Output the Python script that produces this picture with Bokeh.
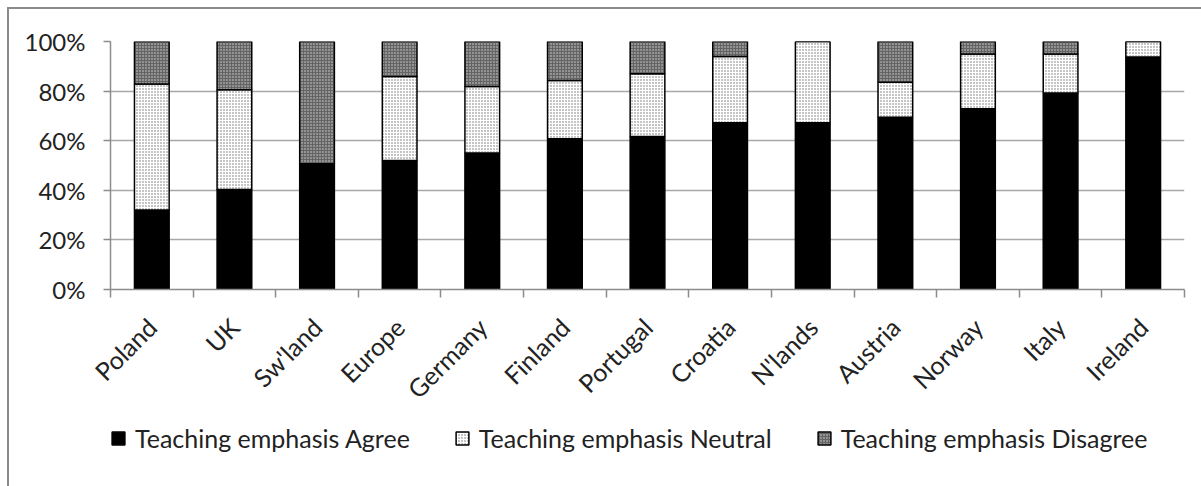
from math import pi

from bokeh.embed import file_html
from bokeh.layouts import column
from bokeh.models import (CategoricalAxis, ColumnDataSource, FactorRange, FixedTicker, Legend,
                          LegendItem, LinearAxis, PrintfTickFormatter, Range1d)
from bokeh.plotting import figure
from bokeh.resources import INLINE

# Share of responses (%) per country
countries = ["Poland", "UK", "Sw'land", "Europe", "Germany", "Finland", "Portugal",
             "Croatia", "N'lands", "Austria", "Norway", "Italy", "Ireland"]
agree = [32.1, 40.3, 50.7, 52.0, 55.0, 60.8, 61.7, 67.2, 67.2, 69.5, 72.9, 79.2, 93.7]
neutral = [50.8, 40.2, 0.0, 33.9, 26.9, 23.5, 25.3, 26.8, 32.8, 14.1, 22.1, 15.8, 6.3]
disagree = [17.1, 19.5, 49.3, 14.1, 18.1, 15.7, 13.0, 6.0, 0.0, 16.4, 5.0, 5.0, 0.0]
series = ["Teaching emphasis Agree", "Teaching emphasis Neutral", "Teaching emphasis Disagree"]
y_ticks = [0, 20, 40, 60, 80, 100]

FONT = "Lato"
TEXT = "#222222"
AXIS = "#8c8c8c"

# fill styles of the three answer groups
FILLS = ["black", "white", "#646464"]
HATCHES = [" ", "dot", "dot"]
HATCH_COLORS = ["black", "#6e6e6e", "#d8d8d8"]
BAR_LINE = dict(line_color="black", line_width=1.5, hatch_scale=3, hatch_weight=1.6)
STACK = ["agree", "neutral", "disagree"]

src = ColumnDataSource(dict(country=countries, agree=agree, neutral=neutral, disagree=disagree))

p = figure(x_range=FactorRange(*countries), y_range=Range1d(0, 100),
           width=1201, height=420, output_backend="svg", toolbar_location=None,
           x_axis_location=None, min_border_left=110, min_border_right=17,
           min_border_top=41, min_border_bottom=131,
           background_fill_color="white", border_fill_alpha=0)
p.outline_line_color = None

p.vbar_stack(STACK, x="country", width=0.42, source=src,
             fill_color=FILLS, hatch_pattern=HATCHES, hatch_color=HATCH_COLORS, **BAR_LINE)

# y axis
yax = p.yaxis[0]
yax.ticker = FixedTicker(ticks=y_ticks)
yax.formatter = PrintfTickFormatter(format="%d%%")
yax.axis_line_color = AXIS
yax.axis_line_width = 1.5
yax.major_tick_line_color = AXIS
yax.major_tick_line_width = 1.5
yax.major_tick_out = 7
yax.major_tick_in = 0
yax.minor_tick_line_color = None
yax.major_label_standoff = 18
yax.major_label_text_font = FONT
yax.major_label_text_font_size = "24px"
yax.major_label_text_color = TEXT

p.ygrid.ticker = FixedTicker(ticks=y_ticks)
p.ygrid.grid_line_color = "#a8a8a8"
p.ygrid.grid_line_width = 1.5
p.xgrid.visible = False

# x axis: tick marks on the boundaries between categories (synthetic coordinates 0..N)
edge_axis = LinearAxis(ticker=FixedTicker(ticks=list(range(len(countries) + 1))),
                       axis_line_color=AXIS, axis_line_width=1.5,
                       major_tick_line_color=AXIS, major_tick_line_width=1.5,
                       major_tick_out=8, major_tick_in=0, minor_tick_line_color=None,
                       major_label_text_font_size="1px", major_label_text_alpha=0,
                       major_label_standoff=0)
p.add_layout(edge_axis, "below")

# x axis: rotated category names
cat_axis = CategoricalAxis(axis_line_color=None, major_tick_line_color=None,
                           major_tick_out=0, major_label_orientation=pi / 4,
                           major_label_standoff=25, major_label_text_font=FONT,
                           major_label_text_font_size="25px", major_label_text_color=TEXT)
p.add_layout(cat_axis, "below")

# legend strip under the chart; the swatch renderers are hidden, only their legend entries show
leg = figure(x_range=p.x_range, y_range=Range1d(200, 300),
             width=1201, height=66, output_backend="svg", toolbar_location=None,
             x_axis_location=None, y_axis_location=None,
             min_border_left=110, min_border_right=17, min_border_top=0, min_border_bottom=0,
             background_fill_alpha=0, border_fill_alpha=0)
leg.outline_line_color = None
leg.grid.visible = False
swatches = leg.vbar_stack(STACK, x="country", width=0.42, source=src,
                          fill_color=FILLS, hatch_pattern=HATCHES, hatch_color=HATCH_COLORS,
                          **BAR_LINE)
for r in swatches:
    r.visible = False

legend = Legend(items=[LegendItem(label=s, renderers=[r]) for s, r in zip(series, swatches)],
                orientation="horizontal", location=(0, 33), click_policy="none",
                border_line_color=None, background_fill_alpha=0,
                label_text_font=FONT, label_text_font_size="25px", label_text_color=TEXT,
                glyph_width=16, glyph_height=16, label_standoff=9, spacing=44,
                padding=0, margin=0)
leg.add_layout(legend, "center")

frame_css = """
:host { position: relative; overflow: hidden; }
:host::before {
  content: ""; position: absolute; left: 7px; top: 7px; width: calc(100% - 7px); height: 2px;
  background: #8a8a8a; pointer-events: none; z-index: 100;
}
:host::after {
  content: ""; position: absolute; left: 7px; top: 7px; width: 2px; height: calc(100% - 7px);
  background: #8a8a8a; pointer-events: none; z-index: 100;
}
"""
page = column(p, leg, spacing=0, stylesheets=[frame_css])

open("out.html", "w").write(file_html(page, INLINE))
